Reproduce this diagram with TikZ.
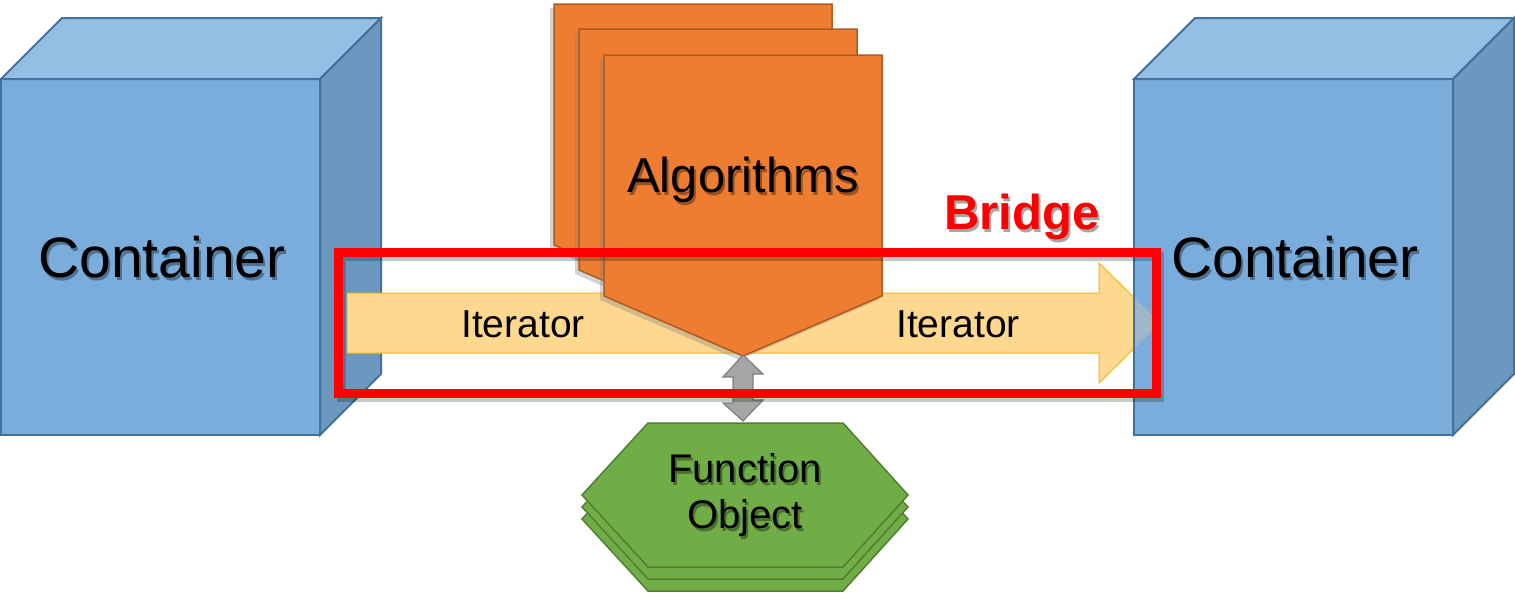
\documentclass[tikz,border=0pt]{standalone}
\usepackage{fontspec}
\setmainfont{Liberation Sans}
\usetikzlibrary{shadows}
\definecolor{cubefront}{HTML}{7BADDC}
\definecolor{cubetop}{HTML}{95BEE4}
\definecolor{cubeside}{HTML}{6C97BF}
\definecolor{cubeedge}{HTML}{41719C}
\definecolor{algfill}{HTML}{ED7D31}
\definecolor{algedge}{HTML}{AE5A21}
\definecolor{fofill}{HTML}{70AD47}
\definecolor{foedge}{HTML}{507E32}
\definecolor{itfill}{HTML}{FFD88F}
\definecolor{itedge}{HTML}{F2B81C}
\definecolor{dafill}{HTML}{A5A5A5}
\definecolor{daedge}{HTML}{7F7F7F}
\begin{document}
\begin{tikzpicture}[x=1pt,y=-1pt,
  cubeline/.style={draw=cubeedge, line width=2pt, line join=miter},
  algshape/.style={fill=algfill, draw=algedge, line width=1.5pt,
     drop shadow={shadow xshift=-4pt, shadow yshift=-4pt, opacity=0.35}},
  foshape/.style={fill=fofill, draw=foedge, line width=1.5pt},
  lbl/.style={anchor=base, inner sep=0pt, text=black},
  lblshadow/.style={anchor=base, inner sep=0pt, text=black, opacity=0.35},
  bigfont/.style={font=\fontsize{57}{60}\selectfont},
  algfont/.style={font=\fontsize{49}{52}\selectfont},
  itfont/.style={font=\fontsize{39}{42}\selectfont},
  fofont/.style={font=\fontsize{40}{46}\selectfont},
  bridgefont/.style={font=\fontsize{49}{52}\selectfont\bfseries}
]
\useasboundingbox (0,0) rectangle (1515,595);

% ---------- left cube ----------
\path[cubeline, fill=cubefront] (1,79) rectangle (320,435);
\path[cubeline, fill=cubetop] (1,79) -- (62,18) -- (381,18) -- (320,79) -- cycle;
\path[cubeline, fill=cubeside] (320,79) -- (381,18) -- (381,374) -- (320,435) -- cycle;

% ---------- iterator arrow ----------
\path[fill=itfill, draw=itedge, line width=1pt]
  (347,293) -- (1099,293) -- (1099,263) -- (1160,323) -- (1099,383) -- (1099,353) -- (347,353) -- cycle;

% ---------- right cube ----------
\path[cubeline, fill=cubefront] (1134,79) rectangle (1453,435);
\path[cubeline, fill=cubetop] (1134,79) -- (1195,18) -- (1514,18) -- (1453,79) -- cycle;
\path[cubeline, fill=cubeside] (1453,79) -- (1514,18) -- (1514,374) -- (1453,435) -- cycle;
% faint arrow tip seen through the cube
\begin{scope}
  \clip (1135,80) rectangle (1452,434);
  \path[fill=itfill, fill opacity=0.25]
    (1099,293) -- (1099,263) -- (1160,323) -- (1099,383) -- (1099,353) -- cycle;
\end{scope}

% ---------- algorithms stack ----------
\path[algshape] (554,4) -- (832,4) -- (832,245) -- (693,305) -- (554,245) -- cycle;
\path[algshape] (579,29) -- (857,29) -- (857,270) -- (718,330) -- (579,270) -- cycle;
\path[algshape] (604,55) -- (882,55) -- (882,296) -- (743,356) -- (604,296) -- cycle;
\coordinate (algtip) at (743,356);

% ---------- function object stack ----------
\foreach \dy in {24,12,0}{
  \path[foshape] (648,423+\dy) -- (843,423+\dy) -- (908,495+\dy) -- (843,567+\dy)
     -- (648,567+\dy) -- (582,495+\dy) -- cycle;
}
\coordinate (fotop) at (743,421);

% ---------- double arrow (algorithms <-> function object) ----------
\path[fill=dafill, draw=daedge, line width=1.2pt, line join=miter]
  ([yshift=1pt]algtip) -- ++(20,19) -- ++(-10,0) -- ++(0,26) -- ++(10,0)
  -- (fotop) -- ++(-20,-18) -- ++(10,0) -- ++(0,-26) -- ++(-10,0) -- cycle;

% ---------- bridge frame ----------
\draw[black, opacity=0.22, line width=9pt] (341.5,256) rectangle (1159,397);
\draw[red, line width=9pt] (338.5,252) rectangle (1156,393);

% ---------- texts ----------
\node[lblshadow, bigfont] at (164,280) {Container};
\node[lbl, bigfont] (lcont) at (162,277) {Container};
\node[lblshadow, bigfont] at (1297,280) {Container};
\node[lbl, bigfont] (rcont) at (1295,277) {Container};

\node[lblshadow, algfont] at (745,195) {Algorithms};
\node[lbl, algfont] (alg) at (743,192) {Algorithms};

\node[lbl, itfont] (itl) at (523,337) {Iterator};
\node[lbl, itfont] (itr) at (958,337) {Iterator};

\node[lblshadow, fofont] at (747,485) {Function};
\node[lbl, fofont] (fo1) at (745,482) {Function};
\node[lblshadow, fofont] at (747,531) {Object};
\node[lbl, fofont] (fo2) at (745,528) {Object};

\node[lblshadow, bridgefont] at (1024,232) {Bridge};
\node[lbl, bridgefont, text=red] (bridge) at (1022,229) {Bridge};
\end{tikzpicture}
\end{document}
